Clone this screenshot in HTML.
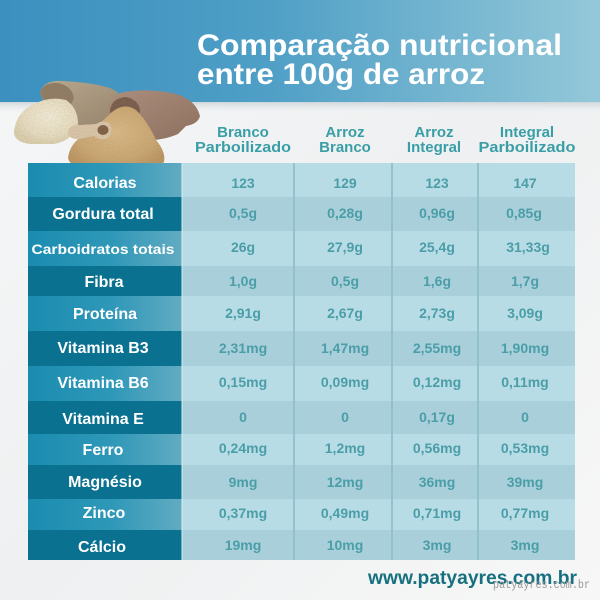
<!DOCTYPE html>
<html><head><meta charset="utf-8"><style>
html,body{margin:0;padding:0;width:600px;height:600px;overflow:hidden;background:#f4f5f6}
svg{display:block}
text{font-family:"Liberation Sans",sans-serif;font-weight:bold}
</style></head><body>
<svg width="600" height="600" viewBox="0 0 600 600" xmlns="http://www.w3.org/2000/svg">
<defs>
<linearGradient id="hdr" x1="0" y1="0" x2="1" y2="0">
<stop offset="0" stop-color="#3b90bf"/><stop offset="0.45" stop-color="#4f9fc6"/><stop offset="1" stop-color="#94c8d9"/>
</linearGradient>
<linearGradient id="shadow" x1="0" y1="0" x2="0" y2="1">
<stop offset="0" stop-color="#cfd6da"/><stop offset="1" stop-color="#f4f5f6" stop-opacity="0"/>
</linearGradient>
<linearGradient id="bg" x1="0" y1="0" x2="1" y2="1">
<stop offset="0" stop-color="#f6f7f8"/><stop offset="0.5" stop-color="#eef0f1"/><stop offset="1" stop-color="#f7f7f7"/>
</linearGradient>
<linearGradient id="lite" x1="0" y1="0" x2="1" y2="0">
<stop offset="0" stop-color="#1a8cb0"/><stop offset="0.55" stop-color="#2f98b8"/><stop offset="1" stop-color="#62abc2"/>
</linearGradient>
<radialGradient id="whiteRice" cx="0.55" cy="0.4" r="0.6">
<stop offset="0" stop-color="#f4eed9"/><stop offset="0.7" stop-color="#e9dfc3"/><stop offset="1" stop-color="#ddd1b0"/>
</radialGradient>
<radialGradient id="brownRice" cx="0.5" cy="0.4" r="0.6">
<stop offset="0" stop-color="#dcbb88"/><stop offset="0.7" stop-color="#cca874"/><stop offset="1" stop-color="#bd9763"/>
</radialGradient>
<linearGradient id="sack1" x1="0" y1="0" x2="1" y2="1">
<stop offset="0" stop-color="#bdad94"/><stop offset="1" stop-color="#94826b"/>
</linearGradient>
<linearGradient id="sack2" x1="0" y1="0" x2="1" y2="1">
<stop offset="0" stop-color="#b09081"/><stop offset="1" stop-color="#8c6e5f"/>
</linearGradient>
<filter id="grain" x="0" y="0" width="100%" height="100%">
<feTurbulence type="fractalNoise" baseFrequency="0.9" numOctaves="2" seed="3" result="n"/>
<feColorMatrix in="n" type="matrix" values="0 0 0 0 0.3  0 0 0 0 0.22  0 0 0 0 0.12  0 0 0 -0.6 0.42" result="a"/>
<feComposite in="a" in2="SourceGraphic" operator="in" result="m"/>
<feMerge><feMergeNode in="SourceGraphic"/><feMergeNode in="m"/></feMerge>
</filter>
</defs>

<rect x="0" y="0" width="600" height="600" fill="url(#bg)"/>
<rect x="0" y="0" width="600" height="102" fill="url(#hdr)"/>
<rect x="0" y="102" width="600" height="12" fill="url(#shadow)"/>

<text x="197" y="55" font-size="30" fill="#ffffff" textLength="365" lengthAdjust="spacingAndGlyphs">Comparação nutricional</text>
<text x="197" y="84" font-size="30" fill="#ffffff" textLength="288" lengthAdjust="spacingAndGlyphs">entre 100g de arroz</text>

<!-- rice illustration -->
<g filter="url(#grain)">
<path d="M40,92 Q44,80 62,81 Q90,82 110,88 Q126,95 128,112 Q124,126 108,128 L80,126 Q62,120 52,110 Q42,102 40,92 Z" fill="url(#sack1)"/>
<path d="M40,92 Q44,82 58,83 Q72,86 74,98 Q70,110 58,110 Q44,106 40,92 Z" fill="#8f7c65"/>
<path d="M14,132 Q16,112 34,104 Q50,96 66,100 Q78,108 78,124 Q74,140 54,144 L30,144 Q14,142 14,132 Z" fill="url(#whiteRice)"/>
<path d="M108,112 Q108,96 124,92 Q150,88 176,94 Q196,100 200,116 Q198,124 186,126 L178,134 Q160,142 136,140 Q116,134 108,112 Z" fill="url(#sack2)"/>
<path d="M110,110 Q112,98 126,97 Q140,100 140,112 Q134,122 122,122 Q110,120 110,110 Z" fill="#765a4b"/>
<path d="M68,158 Q70,142 86,134 Q100,124 112,112 Q124,102 136,110 Q148,122 156,140 Q166,152 164,162 Q156,171 128,171 L92,171 Q70,168 68,158 Z" fill="url(#brownRice)"/>
<path d="M68,132 Q70,124 80,125 L96,124 Q104,119 110,124 Q114,132 108,138 Q100,141 94,136 L80,139 Q69,140 68,132 Z" fill="#dcc7ab"/>
<ellipse cx="103" cy="130" rx="5.5" ry="5" fill="#7d5f45"/>
</g>

<!-- column headers -->
<g font-size="15" fill="#3a9ea6" text-anchor="middle">
<text x="243" y="137">Branco</text>
<text x="243" y="152" textLength="96" lengthAdjust="spacingAndGlyphs">Parboilizado</text>
<text x="345" y="137">Arroz</text>
<text x="345" y="152">Branco</text>
<text x="434" y="137">Arroz</text>
<text x="434" y="152">Integral</text>
<text x="527" y="137">Integral</text>
<text x="527" y="152" textLength="97" lengthAdjust="spacingAndGlyphs">Parboilizado</text>
</g>

<!-- table rows -->
<g>
<rect x="28" y="163" width="154" height="34" fill="url(#lite)"/><rect x="182" y="163" width="393" height="34" fill="#b8dce5"/>
<rect x="28" y="197" width="154" height="34" fill="#0b7191"/><rect x="182" y="197" width="393" height="34" fill="#a9d0da"/>
<rect x="28" y="231" width="154" height="35" fill="url(#lite)"/><rect x="182" y="231" width="393" height="35" fill="#b8dce5"/>
<rect x="28" y="266" width="154" height="30" fill="#0b7191"/><rect x="182" y="266" width="393" height="30" fill="#a9d0da"/>
<rect x="28" y="296" width="154" height="35" fill="url(#lite)"/><rect x="182" y="296" width="393" height="35" fill="#b8dce5"/>
<rect x="28" y="331" width="154" height="35" fill="#0b7191"/><rect x="182" y="331" width="393" height="35" fill="#a9d0da"/>
<rect x="28" y="366" width="154" height="35" fill="url(#lite)"/><rect x="182" y="366" width="393" height="35" fill="#b8dce5"/>
<rect x="28" y="401" width="154" height="33" fill="#0b7191"/><rect x="182" y="401" width="393" height="33" fill="#a9d0da"/>
<rect x="28" y="434" width="154" height="31" fill="url(#lite)"/><rect x="182" y="434" width="393" height="31" fill="#b8dce5"/>
<rect x="28" y="465" width="154" height="34" fill="#0b7191"/><rect x="182" y="465" width="393" height="34" fill="#a9d0da"/>
<rect x="28" y="499" width="154" height="31" fill="url(#lite)"/><rect x="182" y="499" width="393" height="31" fill="#b8dce5"/>
<rect x="28" y="530" width="154" height="30" fill="#0b7191"/><rect x="182" y="530" width="393" height="30" fill="#a9d0da"/>
</g>
<g stroke="#8bbac7" stroke-width="1.5">
<line x1="294" y1="163" x2="294" y2="560"/>
<line x1="392" y1="163" x2="392" y2="560"/>
<line x1="478" y1="163" x2="478" y2="560"/>
</g>
<line x1="182" y1="163" x2="182" y2="560" stroke="#d8ecf1" stroke-width="1"/>

<!-- row labels -->
<g font-size="16" fill="#ffffff" text-anchor="middle">
<text x="105" y="188">Calorias</text>
<text x="103" y="219">Gordura total</text>
<text x="103" y="254" font-size="13.5" textLength="143" lengthAdjust="spacingAndGlyphs">Carboidratos totais</text>
<text x="104" y="287">Fibra</text>
<text x="105" y="319">Proteína</text>
<text x="103" y="353">Vitamina B3</text>
<text x="103" y="388">Vitamina B6</text>
<text x="103" y="424">Vitamina E</text>
<text x="103" y="455">Ferro</text>
<text x="105" y="487">Magnésio</text>
<text x="104" y="518">Zinco</text>
<text x="102" y="552">Cálcio</text>
</g>

<!-- values -->
<g font-size="14" fill="#4b9ea8" text-anchor="middle">
<text x="243" y="188">123</text><text x="345" y="188">129</text><text x="437" y="188">123</text><text x="525" y="188">147</text>
<text x="243" y="218">0,5g</text><text x="345" y="218">0,28g</text><text x="437" y="218">0,96g</text><text x="524" y="218">0,85g</text>
<text x="243" y="252">26g</text><text x="345" y="252">27,9g</text><text x="437" y="252">25,4g</text><text x="528" y="252">31,33g</text>
<text x="243" y="286">1,0g</text><text x="345" y="286">0,5g</text><text x="437" y="286">1,6g</text><text x="525" y="286">1,7g</text>
<text x="243" y="318">2,91g</text><text x="345" y="318">2,67g</text><text x="437" y="318">2,73g</text><text x="525" y="318">3,09g</text>
<text x="243" y="353">2,31mg</text><text x="345" y="353">1,47mg</text><text x="437" y="353">2,55mg</text><text x="525" y="353">1,90mg</text>
<text x="243" y="387">0,15mg</text><text x="345" y="387">0,09mg</text><text x="437" y="387">0,12mg</text><text x="525" y="387">0,11mg</text>
<text x="243" y="422">0</text><text x="345" y="422">0</text><text x="437" y="422">0,17g</text><text x="525" y="422">0</text>
<text x="243" y="453">0,24mg</text><text x="345" y="453">1,2mg</text><text x="437" y="453">0,56mg</text><text x="525" y="453">0,53mg</text>
<text x="243" y="487">9mg</text><text x="345" y="487">12mg</text><text x="437" y="487">36mg</text><text x="525" y="487">39mg</text>
<text x="243" y="518">0,37mg</text><text x="345" y="518">0,49mg</text><text x="437" y="518">0,71mg</text><text x="525" y="518">0,77mg</text>
<text x="243" y="550">19mg</text><text x="345" y="550">10mg</text><text x="437" y="550">3mg</text><text x="525" y="550">3mg</text>
</g>

<text x="368" y="584" font-size="19" fill="#16707f" textLength="209" lengthAdjust="spacingAndGlyphs">www.patyayres.com.br</text>
<text x="493" y="588" font-size="12" fill="#9a9a9a" style="font-family:'Liberation Mono',monospace;font-weight:normal" textLength="97" lengthAdjust="spacingAndGlyphs">patyayres.com.br</text>
</svg>
</body></html>
